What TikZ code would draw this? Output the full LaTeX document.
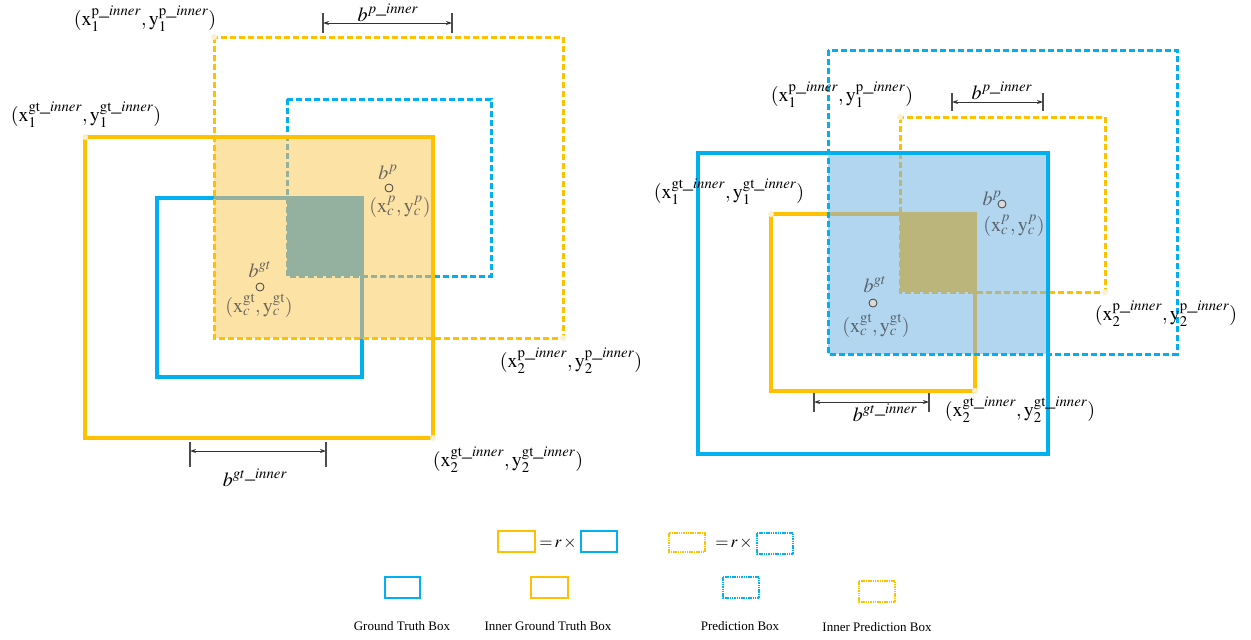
\documentclass[tikz,border=0pt]{standalone}
\usepackage{mathptmx}
\usepackage[no-math]{fontspec}
\setmainfont{Liberation Serif}
\usetikzlibrary{arrows.meta}
\definecolor{cblue}{HTML}{00B0F0}
\definecolor{corange}{HTML}{FFC000}
\definecolor{lfill}{HTML}{FDE2A6}
\definecolor{ldark}{HTML}{94B1A0}
\definecolor{rfill}{HTML}{B2D6F0}
\definecolor{rdark}{HTML}{BBB57C}
\definecolor{dotc}{HTML}{FBEFD0}
\definecolor{ltxt}{HTML}{6B665C}
\definecolor{rtxt}{HTML}{58636B}
\newcommand{\cornerlab}[2]{$(\mathrm{x}_{#1}^{\mathrm{#2}\_inner},\mathrm{y}_{#1}^{\mathrm{#2}\_inner})$}
\begin{document}
\begin{tikzpicture}[x=1pt,y=-1pt,
  boxline/.style={line width=3.2pt},
  dashline/.style={line width=3pt,dash pattern=on 6pt off 3pt},
  legline/.style={line width=1.4pt},
  legdot/.style={line width=1.2pt,dash pattern=on 1.5pt off 0.8pt},
  lab/.style={inner sep=0pt,font=\fontsize{20}{22}\selectfont},
  leglab/.style={inner sep=0pt,font=\fontsize{13}{15}\selectfont},
  eqlab/.style={inner sep=0pt,font=\fontsize{17}{19}\selectfont},
  cdot/.style={fill=dotc,draw=none},
  ctr/.style={draw=black!75,line width=0.8pt,circle,inner sep=0pt,minimum size=8pt},
  dim/.style={line width=0.9pt,black!80,{Stealth[length=6pt,width=4pt]}-{Stealth[length=6pt,width=4pt]}},
  tick/.style={line width=1.1pt,black!70}]
\useasboundingbox (0,0) rectangle (1251,640);

% ================= LEFT PANEL =================
\fill[lfill] (214,137) rectangle (433,338);
\draw[cblue,boxline] (157,198) rectangle (362,377);
\draw[cblue,dashline] (287,99) rectangle (491,276);
\fill[ldark] (287,198) rectangle (362,276);
\begin{scope}
  \clip (214,137) rectangle (433,338);
  \draw[ldark,boxline] (157,198) rectangle (362,377);
  \draw[ldark,dashline] (287,99) rectangle (491,276);
\end{scope}
\draw[corange,boxline] (85,137) rectangle (433,438);
\draw[corange,dashline] (214,37) rectangle (563,338);
\foreach \p in {(85,137),(433,438),(214,37),(563,338)} \fill[cdot] \p circle (3);

\node[lab] (l1p) at (145,19) {\cornerlab{1}{p}};
\node[lab] (l1gt) at (86,115) {\cornerlab{1}{gt}};
\node[lab] (l2p) at (571,361) {\cornerlab{2}{p}};
\node[lab] (l2gt) at (508,460) {\cornerlab{2}{gt}};

\coordinate (lpa) at (323,23); \coordinate (lpb) at (452,23);
\draw[tick] (323,13) -- (323,33); \draw[tick] (452,13) -- (452,33);
\draw[dim] (lpa) -- (lpb);
\node[lab,anchor=base] (lpl) at (388,21) {$b^{p\_inner}$};

\coordinate (lga) at (190,451); \coordinate (lgb) at (326,451);
\draw[tick] (190,442) -- (190,467); \draw[tick] (326,442) -- (326,467);
\draw[dim] (lga) -- (lgb);
\node[lab,anchor=base] (lgl) at (255,486) {$b^{gt\_inner}$};

\node[lab,anchor=base,text=ltxt] (lbp) at (388,179) {$b^{p}$};
\node[ctr,fill=lfill] (lcp) at (389,188) {};
\node[lab,text=ltxt] (lcpl) at (400,207) {$(\mathrm{x}_{c}^{p},\mathrm{y}_{c}^{p})$};
\node[lab,anchor=base,text=ltxt] (lbg) at (260,277) {$b^{gt}$};
\node[ctr,fill=lfill] (lcg) at (260,287) {};
\node[lab,text=ltxt] (lcgl) at (259,306) {$(\mathrm{x}_{c}^{\mathrm{gt}},\mathrm{y}_{c}^{\mathrm{gt}})$};

% ================= RIGHT PANEL =================
\fill[rfill] (828,153) rectangle (1048,354);
\draw[corange,boxline] (771,214) rectangle (975,391);
\draw[corange,dashline] (900,117) rectangle (1105,292);
\fill[rdark] (900,214) rectangle (975,292);
\begin{scope}
  \clip (828,153) rectangle (1048,354);
  \draw[rdark,boxline] (771,214) rectangle (975,391);
  \draw[rdark,dashline] (900,117) rectangle (1105,292);
\end{scope}
\draw[cblue,boxline] (698,153) rectangle (1048,454);
\draw[cblue,dashline] (828,50) rectangle (1177,354);
\foreach \p in {(771,214),(975,391),(900,117),(1105,292)} \fill[cdot] \p circle (3);

\node[lab] (r1p) at (842,95) {\cornerlab{1}{p}};
\node[lab] (r1gt) at (729,192) {\cornerlab{1}{gt}};
\node[lab] (r2p) at (1166,314) {\cornerlab{2}{p}};
\node[lab] (r2gt) at (1020,410) {\cornerlab{2}{gt}};

\coordinate (rpa) at (952,102); \coordinate (rpb) at (1043,102);
\draw[tick] (952,93) -- (952,111); \draw[tick] (1043,93) -- (1043,111);
\draw[dim] (rpa) -- (rpb);
\node[lab,anchor=base] (rpl) at (1002,99) {$b^{p\_inner}$};

\coordinate (rga) at (814,402); \coordinate (rgb) at (929,402);
\draw[tick] (814,393) -- (814,412); \draw[tick] (929,393) -- (929,412);
\draw[dim] (rga) -- (rgb);
\node[lab,anchor=base] (rgl) at (885,421) {$b^{gt\_inner}$};

\node[lab,anchor=base,text=rtxt] (rbp) at (992,205) {$b^{p}$};
\node[ctr,fill=black!15] (rcp) at (1002,204) {};
\node[lab,text=rtxt] (rcpl) at (1014,226) {$(\mathrm{x}_{c}^{p},\mathrm{y}_{c}^{p})$};
\node[lab,anchor=base,text=rtxt] (rbg) at (875,292) {$b^{gt}$};
\node[ctr,fill=black!15] (rcg) at (873,303) {};
\node[lab,text=rtxt] (rcgl) at (876,326) {$(\mathrm{x}_{c}^{\mathrm{gt}},\mathrm{y}_{c}^{\mathrm{gt}})$};

% ================= LEGEND =================
\draw[corange,legline] (498,531) rectangle (535,552);
\node[eqlab] (eq1) at (558,543) {${=}\,r\,{\times}$};
\draw[cblue,legline] (581,531) rectangle (617,552);
\draw[corange,legdot] (669,533) rectangle (705,552);
\node[eqlab] (eq2) at (734,543) {${=}\,r\,{\times}$};
\draw[cblue,legdot] (757,533) rectangle (793,554);

\draw[cblue,legline] (385,577) rectangle (420,598);
\draw[corange,legline] (531,577) rectangle (568,598);
\draw[cblue,legdot] (723,577) rectangle (759,598);
\draw[corange,legdot] (859,581) rectangle (895,602);
\node[leglab] (g1) at (402,626) {Ground Truth Box};
\node[leglab] (g2) at (548,626) {Inner Ground Truth Box};
\node[leglab] (g3) at (740,626) {Prediction Box};
\node[leglab] (g4) at (877,627) {Inner Prediction Box};
\end{tikzpicture}
\end{document}
